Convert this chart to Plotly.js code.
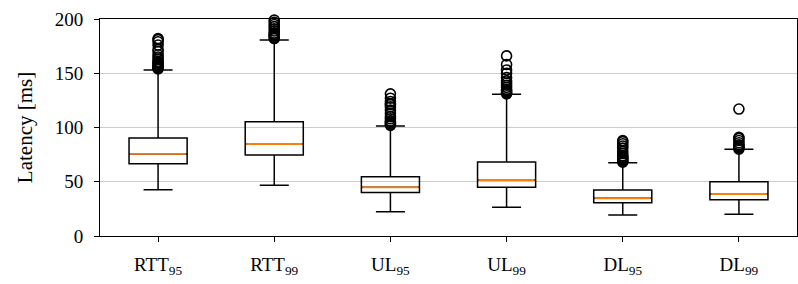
<!DOCTYPE html>
<html>
<head>
<meta charset="utf-8">
<script src="https://cdn.plot.ly/plotly-3.0.1.min.js"></script>
<style>html,body{margin:0;padding:0;background:#fff;}#chart{width:798px;height:284px;}</style>
</head>
<body>
<div id="chart"></div>
<script>
const categories = ['RTT<sub>95</sub>','RTT<sub>99</sub>','UL<sub>95</sub>','UL<sub>99</sub>','DL<sub>95</sub>','DL<sub>99</sub>'];
const q1Values = [66.6, 74.7, 40.0, 44.9, 30.7, 33.5];
const medianValues = [75.6, 84.8, 44.9, 51.6, 34.7, 38.7];
const q3Values = [90.3, 105.4, 54.7, 68.2, 42.4, 50.1];
const lowerWhisker = [42.7, 46.7, 22.4, 26.4, 19.4, 20.0];
const upperWhisker = [153.0, 180.6, 101.4, 130.6, 67.6, 79.9];
const outliersRTT95 = [154,155,155,156,157,158,159,160,161,163,165,167,170,172,176,179,181,182];
const outliersRTT99 = [182,183,184,185,186,187,189,191,193,195,197,199];
const outliersUL95 = [102,103,104,105,106,108,110,113,116,119,121,122,124,127,131];
const outliersUL99 = [131,132,133,134,135,137,139,141,143,146,150,153,158,166];
const outliersDL95 = [68,69,70,71,72,73,74,76,78,81,83,85,87,88];
const outliersDL99 = [80,81,82,83,84,86,88,90,91,117];
const yTicks = [0, 50, 100, 150, 200];

const outlierSets = [outliersRTT95, outliersRTT99, outliersUL95, outliersUL99, outliersDL95, outliersDL99];
const ox = [], oy = [];
outlierSets.forEach((arr, i) => arr.forEach(v => { ox.push(categories[i]); oy.push(v); }));

const font = "'Liberation Serif', 'DejaVu Serif', serif";

const traces = [
  {
    type: 'box', x: categories, q1: q1Values, median: medianValues, q3: q3Values,
    lowerfence: lowerWhisker, upperfence: upperWhisker,
    boxpoints: false, width: 0.5, whiskerwidth: 0.5,
    line: {color: '#000', width: 1.5}, fillcolor: 'rgba(0,0,0,0)',
    hoverinfo: 'skip', showlegend: false
  },
  {
    type: 'box', x: categories, q1: medianValues, median: medianValues, q3: medianValues,
    lowerfence: medianValues, upperfence: medianValues,
    boxpoints: false, width: 0.48, whiskerwidth: 1,
    line: {color: '#ff7f0e', width: 1.8}, fillcolor: 'rgba(0,0,0,0)',
    hoverinfo: 'skip', showlegend: false
  },
  {
    type: 'scatter', mode: 'markers', x: ox, y: oy,
    marker: {symbol: 'circle-open', size: 10, color: '#000', line: {width: 1.6, color: '#000'}},
    hoverinfo: 'skip', showlegend: false, cliponaxis: false
  }
];

const layout = {
  width: 798, height: 284,
  margin: {l: 100, r: 1, t: 19, b: 48},
  paper_bgcolor: '#fff', plot_bgcolor: '#fff',
  font: {family: font, size: 19, color: '#000'},
  boxmode: 'overlay',
  showlegend: false,
  xaxis: {
    type: 'category', categoryorder: 'array', categoryarray: categories,
    range: [-0.5, 5.5], showgrid: false, zeroline: false,
    showline: true, linecolor: '#000', linewidth: 1, mirror: true,
    ticks: 'outside', ticklen: 5, tickcolor: '#000', tickwidth: 1,
    ticklabelstandoff: 6,
    tickfont: {family: font, size: 19, color: '#000'}
  },
  yaxis: {
    range: [0, 200], tickvals: yTicks, ticktext: yTicks.map(String),
    showgrid: true, gridcolor: '#cccccc', gridwidth: 1, zeroline: false,
    showline: true, linecolor: '#000', linewidth: 1, mirror: true,
    ticks: 'outside', ticklen: 5, tickcolor: '#000', tickwidth: 1,
    ticklabelstandoff: 7,
    tickfont: {family: font, size: 19, color: '#000'},
    title: {text: 'Latency [ms]', font: {family: font, size: 21, color: '#000'}, standoff: 16}
  }
};

Plotly.newPlot('chart', traces, layout, {staticPlot: true, displayModeBar: false});
</script>
</body>
</html>
